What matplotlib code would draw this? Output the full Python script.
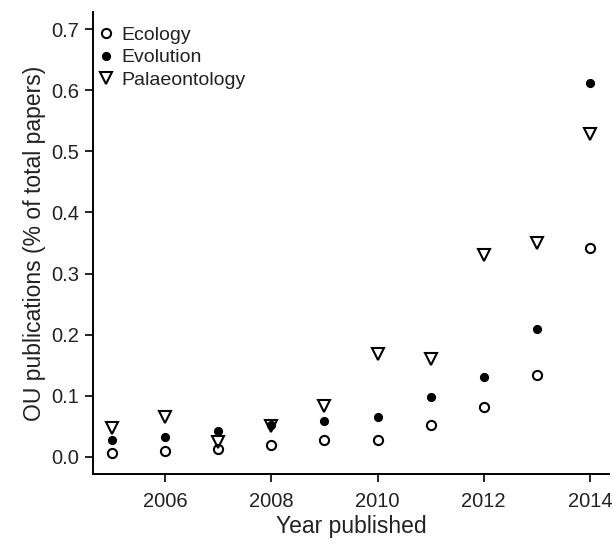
import matplotlib
matplotlib.use('Agg')
import matplotlib.pyplot as plt
import numpy as np

# 年ごとのデータ
years = [2005, 2006, 2007, 2008, 2009, 2010, 2011, 2012, 2013, 2014]
ecology = [0.007, 0.010, 0.013, 0.020, 0.027, 0.028, 0.052, 0.082, 0.134, 0.341]
evolution = [0.027, 0.033, 0.042, 0.052, 0.058, 0.066, 0.098, 0.130, 0.210, 0.611]
palaeontology = [0.048, 0.065, 0.024, 0.050, 0.083, 0.168, 0.160, 0.330, 0.350, 0.529]

plt.rcParams['font.family'] = ['Liberation Sans', 'DejaVu Sans']

dpi = 100
fig = plt.figure(figsize=(6.13, 5.44), dpi=dpi)
ax = fig.add_axes([0.1517, 0.1287, 0.8418, 0.8493])

ax.plot(years, ecology, linestyle='none', marker='o', markersize=6.6,
        markerfacecolor='white', markeredgecolor='black', markeredgewidth=1.5, label='Ecology')
ax.plot(years, evolution, linestyle='none', marker='o', markersize=5.6,
        markerfacecolor='black', markeredgecolor='black', label='Evolution')
ax.plot(years, palaeontology, linestyle='none', marker='v', markersize=8.2,
        markerfacecolor='none', markeredgecolor='black', markeredgewidth=1.5, label='Palaeontology')

ax.set_xlim(2004.64, 2014.36)
ax.set_ylim(-0.028, 0.728)
ax.set_xticks([2006, 2008, 2010, 2012, 2014])
ax.set_yticks(np.arange(0, 0.71, 0.1))
ax.set_yticklabels(['0.0', '0.1', '0.2', '0.3', '0.4', '0.5', '0.6', '0.7'])

for s in ['top', 'right']:
    ax.spines[s].set_visible(False)
for s in ['left', 'bottom']:
    ax.spines[s].set_linewidth(1.4)

ax.tick_params(axis='both', direction='out', length=6, width=1.2, labelsize=14.5,
               labelcolor='#222222')
ax.tick_params(axis='x', pad=7)
ax.tick_params(axis='y', pad=4)

ax.set_xlabel('Year published', fontsize=16.5, labelpad=3, color='#222222')
ax.set_ylabel('OU publications (% of total papers)', fontsize=16.5, labelpad=4, color='#222222')

leg = ax.legend(loc='upper left', bbox_to_anchor=(-0.012, 0.99), frameon=False, fontsize=14,
                handlelength=1.0, handletextpad=0.3, labelspacing=0.25, borderaxespad=0.3,
                borderpad=0.2)
for t in leg.get_texts():
    t.set_color('#222222')

fig.savefig('out.png', dpi=dpi)
